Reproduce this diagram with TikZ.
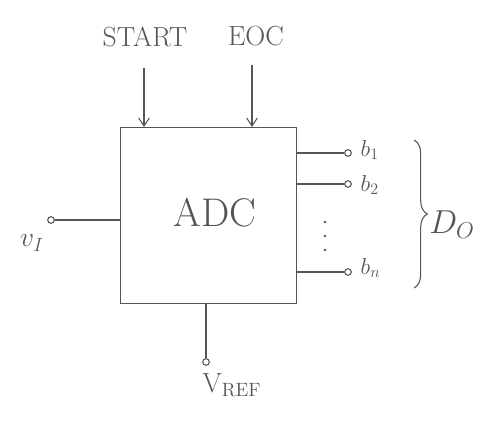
\documentclass[tikz,border=0pt]{standalone}
\usetikzlibrary{arrows.meta,decorations.pathreplacing}
\definecolor{pencil}{HTML}{555555}
\begin{document}
\begin{tikzpicture}[x=0.75pt,y=-0.75pt,
  wire/.style={draw=pencil,line width=0.8pt},
  pin/.style={circle,draw=pencil,line width=0.8pt,inner sep=0pt,minimum size=5pt,fill=white},
  lbl/.style={text=pencil,font=\huge},
  blbl/.style={text=pencil,font=\LARGE,anchor=west},
  dotm/.style={circle,fill=pencil,inner sep=0pt,minimum size=2pt},
  sig/.style={wire,-{Straight Barb[length=6pt,width=8pt]}}]
\useasboundingbox (0,0) rectangle (490,424);
% ADC box
\node[draw=pencil,line width=0.8pt,minimum width=132pt,minimum height=132pt,anchor=north west,inner sep=0pt] (adc) at (120,127) {};
\node[lbl,font=\fontsize{30}{30}\selectfont] (adct) at (215,213) {ADC};
% top signals
\node[lbl] (start) at (145,37) {START};
\node[lbl] (eoc) at (256,36) {EOC};
\coordinate (s0) at (144,68);
\coordinate (e0) at (252,65);
\draw[sig] (s0) -- (adc.north -| s0) ;
\draw[sig] (e0) -- (adc.north -| e0);
% input
\node[pin] (vin) at (51,220) {};
\draw[wire] (vin) -- (vin -| adc.west);
\node[lbl] (vil) at (32,243) {$v_{I}$};
% outputs
\node[pin] (b1p) at (348,153) {};
\node[pin] (b2p) at (348,184) {};
\node[pin] (bnp) at (348,272) {};
\draw[wire] (b1p -| adc.east) -- (b1p);
\draw[wire] (b2p -| adc.east) -- (b2p);
\draw[wire] (bnp -| adc.east) -- (bnp);
\node[blbl] (b1) at (356,150) {$b_1$};
\node[blbl] (b2) at (356,185) {$b_2$};
\node[blbl] (bn) at (356,268) {$b_n$};
\node[dotm] (d1) at (325,222) {};
\node[dotm] (d2) at (325,236) {};
\node[dotm] (d3) at (325,250) {};
\draw[wire,decorate,decoration={brace,amplitude=10pt}] (414,140) -- (414,288);
\node[lbl,font=\fontsize{26}{26}\selectfont] (do) at (452,225) {$D_O$};
% reference
\node[pin] (vrefp) at (206,362) {};
\draw[wire] (adc.south -| vrefp) -- (vrefp);
\node[lbl] (vref) at (232,385) {V\textsubscript{REF}};
\end{tikzpicture}
\end{document}
